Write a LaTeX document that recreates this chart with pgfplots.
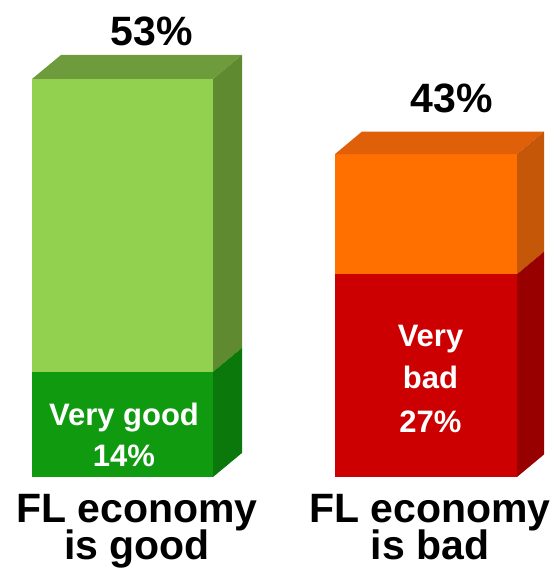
\documentclass[border=0pt]{standalone}
\usepackage{pgfplots}
\pgfplotsset{compat=1.18}
\usepackage{fontspec}
\setmainfont{Liberation Sans}
\definecolor{lgfront}{HTML}{92D050}
\definecolor{lgtop}{HTML}{6E9C3C}
\definecolor{lgside}{HTML}{5F8A30}
\definecolor{dgfront}{HTML}{109A10}
\definecolor{dgside}{HTML}{0A780A}
\definecolor{orfront}{HTML}{FF7000}
\definecolor{ortop}{HTML}{E0600A}
\definecolor{orside}{HTML}{C45808}
\definecolor{rdfront}{HTML}{CC0000}
\definecolor{rdside}{HTML}{980000}
\begin{document}
\begin{tikzpicture}
\begin{axis}[name=ax,
  scale only axis, width=556pt, height=571pt,
  xmin=0, xmax=556, ymin=-12.52, ymax=63.52,
  axis lines=none, clip=false]
% left bar: total 53, very good 14
\addplot[ybar, bar width=181, bar shift=0pt, fill=lgfront, draw=none] coordinates {(122.5,53)};
\addplot[ybar, bar width=181, bar shift=0pt, fill=dgfront, draw=none] coordinates {(122.5,14)};
\addplot[fill=lgtop, draw=none] coordinates {(32,53) (213,53) (242,56.2) (61,56.2)} -- cycle;
\addplot[fill=lgside, draw=none] coordinates {(213,14) (242,17.2) (242,56.2) (213,53)} -- cycle;
\addplot[fill=dgside, draw=none] coordinates {(213,0) (242,3.2) (242,17.2) (213,14)} -- cycle;
% right bar: total 43, very bad 27
\addplot[ybar, bar width=182, bar shift=0pt, fill=orfront, draw=none] coordinates {(426,43)};
\addplot[ybar, bar width=182, bar shift=0pt, fill=rdfront, draw=none] coordinates {(426,27)};
\addplot[fill=ortop, draw=none] coordinates {(335,43) (517,43) (544,46.0) (362,46.0)} -- cycle;
\addplot[fill=orside, draw=none] coordinates {(517,27) (544,30.0) (544,46.0) (517,43)} -- cycle;
\addplot[fill=rdside, draw=none] coordinates {(517,0) (544,3.0) (544,30.0) (517,27)} -- cycle;
% labels
\node[anchor=base, font=\bfseries\fontsize{41}{41}\selectfont] at (axis cs:151.5,57.52) {53\%};
\node[anchor=base, font=\bfseries\fontsize{41}{41}\selectfont] at (axis cs:452,48.6) {43\%};
\node[anchor=base, white, font=\bfseries\fontsize{31}{31}\selectfont] at (axis cs:124,6.79) {Very good};
\node[anchor=base, white, font=\bfseries\fontsize{31}{31}\selectfont] at (axis cs:124,1.33) {14\%};
\node[anchor=base, white, font=\bfseries\fontsize{31}{31}\selectfont] at (axis cs:430.5,17.31) {Very};
\node[anchor=base, white, font=\bfseries\fontsize{31}{31}\selectfont] at (axis cs:430.5,11.72) {bad};
\node[anchor=base, white, font=\bfseries\fontsize{31}{31}\selectfont] at (axis cs:430.5,5.86) {27\%};
\node[anchor=base, font=\bfseries\fontsize{41}{41}\selectfont] at (axis cs:137,-6.03) {FL economy};
\node[anchor=base, font=\bfseries\fontsize{41}{41}\selectfont] at (axis cs:137,-11.05) {is good};
\node[anchor=base, font=\bfseries\fontsize{41}{41}\selectfont] at (axis cs:430,-6.03) {FL economy};
\node[anchor=base, font=\bfseries\fontsize{41}{41}\selectfont] at (axis cs:430,-11.05) {is bad};
\end{axis}
\pgfresetboundingbox
\path[use as bounding box] (ax.south west) rectangle (ax.north east);
\end{tikzpicture}
\end{document}
